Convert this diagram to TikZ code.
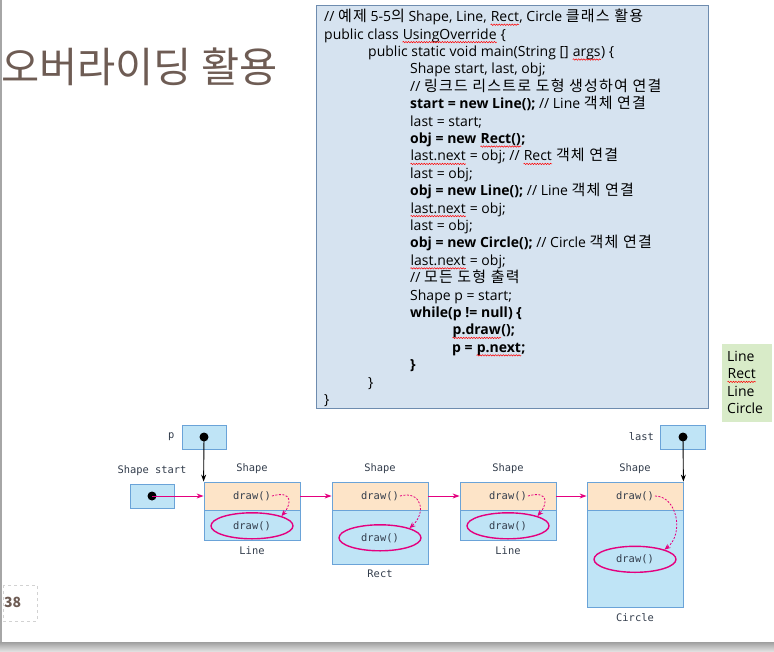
\documentclass[tikz,border=0pt]{standalone}
\usepackage{fontspec}
\usetikzlibrary{arrows.meta,positioning,shapes.geometric,decorations.pathmorphing}
\newfontfamily\cjk{Noto Sans CJK KR}
\newfontfamily\cjkcode[LetterSpace=8]{Noto Sans CJK KR}
\newfontfamily\codefont{Open Sans}
\setmonofont{DejaVu Sans Mono}
\setlength{\lineskiplimit}{-20pt}
\setlength{\lineskip}{0pt}
\definecolor{mag}{RGB}{228,0,127}
\definecolor{boxblue}{RGB}{191,228,246}
\definecolor{boxline}{RGB}{106,163,216}
\definecolor{peach}{RGB}{253,228,200}
\definecolor{monotext}{RGB}{50,60,75}
\definecolor{codefill}{RGB}{214,227,240}
\definecolor{codeline}{RGB}{110,140,175}
\definecolor{titlecol}{RGB}{110,92,84}
\definecolor{resgreen}{RGB}{216,235,200}
% korean words inside the code
\newcommand\kr[1]{{\cjkcode\fontsize{15}{17.4}\selectfont #1}}
% red spell-check wave under a word
\newcommand\squig[1]{\tikz[baseline=(w.base)]{\node[inner sep=0, anchor=base, minimum width=0pt, minimum height=0pt, fill=none, draw=none] (w) {#1};
  \draw[red, line width=0.5pt, decorate, decoration={snake, amplitude=0.7pt, segment length=2.6pt}]
    ([yshift=-3pt]w.base west) -- ([yshift=-3pt]w.base east);}}
\tikzset{
  objtop/.style={draw=boxline, fill=peach, minimum width=96pt, minimum height=28pt, inner sep=0, line width=0.8pt},
  objbot/.style={draw=boxline, fill=boxblue, minimum width=96pt, inner sep=0, line width=0.8pt},
  refbox/.style={draw=boxline, fill=boxblue, minimum width=44pt, minimum height=24pt, inner sep=0, line width=0.8pt},
  refdot/.style={circle, fill=black, inner sep=0, minimum size=9pt},
  mono/.style={font=\ttfamily\fontsize{10.4}{12}\selectfont, text=monotext, inner sep=1pt},
  meth/.style={ellipse, draw=mag, line width=1.4pt, minimum width=82pt, minimum height=26pt, inner sep=0},
  link/.style={draw=mag, line width=0.9pt, -{Stealth[length=7pt,width=5pt]}},
  callarr/.style={draw=mag, line width=0.8pt, dash pattern=on 2pt off 1.5pt, -{Stealth[length=6pt,width=5pt]}},
  ptr/.style={draw=black, line width=0.9pt, -{Stealth[length=7pt,width=5pt]}},
  codetext/.style={font=\codefont\fontsize{14}{17.4}\selectfont, align=left, anchor=north west, inner sep=0}
}
\begin{document}
\begin{tikzpicture}[x=1pt,y=-1pt]
  \useasboundingbox (0,0) rectangle (774,651);
  % slide frame
  \draw[gray!70, line width=1.5pt] (0.75,0) -- (0.75,642);
  \shade[top color=gray!75, bottom color=gray!25] (0,642) rectangle (774,651);
  \node[font=\cjk\fontsize{41.5}{44}\selectfont, text=titlecol, anchor=west, inner sep=0] (title) at (1,67) {오버라이딩 활용};
  \draw[gray!35, dashed, line width=0.8pt] (3,585) rectangle (37,621);
  \node[font=\cjk\bfseries\fontsize{14}{16}\selectfont, text=titlecol, anchor=west, inner sep=0] (page) at (4,602) {38};
  % code
  \draw[fill=codefill, draw=codeline, line width=0.8pt] (316,5) rectangle (708,408);
  \node[codetext] (code) at (324,9) {%
// \kr{예제} 5-5\kr{의} Shape, Line, \squig{Rect}, Circle \kr{클래스 활용}\\
public class \squig{UsingOverride} \{\\
\hspace*{44pt}public static void main(String [] \squig{args}) \{\\
\hspace*{86pt}Shape start, last, obj;\\
\hspace*{86pt}// \kr{링크드 리스트로 도형 생성하여 연결}\\
\hspace*{86pt}\textbf{start = new Line();} // Line \kr{객체 연결}\\
\hspace*{86pt}last = start;\\
\hspace*{86pt}\textbf{obj = new \squig{Rect()};}\\
\hspace*{86pt}\squig{last.next} = obj; // \squig{Rect} \kr{객체 연결}\\
\hspace*{86pt}last = obj;\\
\hspace*{86pt}\textbf{obj = new Line();} // Line \kr{객체 연결}\\
\hspace*{86pt}\squig{last.next} = obj;\\
\hspace*{86pt}last = obj;\\
\hspace*{86pt}\textbf{obj = new Circle();} // Circle \kr{객체 연결}\\
\hspace*{86pt}\squig{last.next} = obj;\\
\hspace*{86pt}// \kr{모든 도형 출력}\\
\hspace*{86pt}Shape p = start;\\
\hspace*{86pt}\textbf{while(p != null) \{}\\
\hspace*{128pt}\textbf{\squig{p.draw}();}\\
\hspace*{128pt}\textbf{p = \squig{p.next};}\\
\hspace*{86pt}\textbf{\}}\\
\hspace*{44pt}\}\\
\}};
  % output
  \node[fill=resgreen, minimum width=50pt, minimum height=78pt, inner sep=0] (resbox) at (747,383) {};
  \node[codetext] (res) at (727,351) {Line\\\squig{Rect}\\Line\\Circle};
  % objects
  \foreach \i/\x/\h/\cls in {1/252/30/Line, 2/380/54/Rect, 3/508/30/Line, 4/635/97/Circle} {
    \node[objtop] (u\i) at (\x,496) {};
    \node[mono] (t\i) at (u\i) {draw()};
    \node[objbot, minimum height=\h pt, anchor=north] (l\i) at (u\i.south) {};
    \node[meth, font=\ttfamily\fontsize{10.4}{12}\selectfont, text=monotext] (e\i) at (l\i) {draw()};
    \node[mono] (s\i) at (\x,469) {Shape};
    \node[mono, below=4pt of l\i] (n\i) {\cls};
  }
  \foreach \a/\b in {1/2,2/3,3/4}
    \draw[link] (u\a.east) -- (u\b.west);
  \draw[callarr] (t1.east) .. controls +(21,-6) and +(10,-12) .. (e1.north east);
  \draw[callarr] (t2.east) .. controls +(22,-6) and +(17,-15) .. (e2.north east);
  \draw[callarr] (t3.east) .. controls +(21,-6) and +(10,-12) .. (e3.north east);
  \draw[callarr] (t4.east) .. controls +(22,0) and +(20,-16) .. (e4.north east);
  % references
  \node[refbox] (pb) at (204,437) {};
  \node[refdot] (pd) at (pb) {};
  \node[mono, left=6pt of pb] (pl) {p};
  \draw[ptr] (pd.center) -- (u1.north west);
  \node[refbox] (sb) at (152,496) {};
  \node[refdot] (sd) at (sb) {};
  \node[mono] (sl) at (152,471) {Shape start};
  \draw[link] (sd.center) -- (u1.west);
  \node[refbox, minimum width=45pt] (lb) at (683,437) {};
  \node[refdot] (ld) at (lb) {};
  \node[mono, left=5pt of lb] (ll) {last};
  \draw[ptr] (ld.center) -- (u4.north east);
\end{tikzpicture}
\end{document}
